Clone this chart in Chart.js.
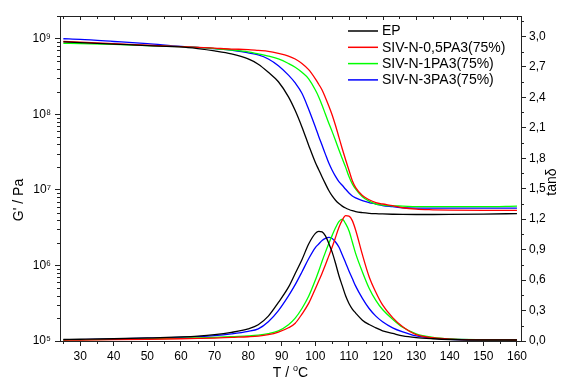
<!DOCTYPE html>
<html>
<head>
<meta charset="utf-8">
<script src="https://cdn.jsdelivr.net/npm/chart.js@4.4.1/dist/chart.umd.min.js"></script>
<style>
  html, body { margin: 0; padding: 0; background: #fff; }
  #c { display: block; }
</style>
</head>
<body>
<canvas id="c" width="563" height="379"></canvas>
<script>
// temperature grid (°C) shared by all curves
const temps = [25, 30, 40, 50, 60, 65, 70, 75, 80, 83, 86, 89, 92, 94, 96, 98, 100, 101, 102, 103,
  104, 105, 106, 107, 108, 109, 110, 111, 112, 114, 116, 118, 120, 123, 126, 130, 135, 140, 150, 160];

// storage modulus G' (Pa)
const gEP = [9.1e8, 8.9e8, 8.5e8, 8.1e8, 7.8e8, 7.4e8, 6.9e8, 6.3e8, 5.4e8, 4.6e8, 3.6e8, 2.7e8, 1.7e8, 1.12e8, 6.8e7, 3.9e7, 2.3e7, 1.85e7, 1.48e7, 1.2e7,
  9.8e6, 8.3e6, 7.3e6, 6.6e6, 6.1e6, 5.75e6, 5.5e6, 5.3e6, 5.15e6, 5.0e6, 4.9e6, 4.84e6, 4.8e6, 4.76e6, 4.73e6, 4.72e6, 4.72e6, 4.73e6, 4.78e6, 4.85e6];
const gS05 = [9.2e8, 9.0e8, 8.6e8, 8.2e8, 7.85e8, 7.7e8, 7.5e8, 7.3e8, 7.2e8, 7.0e8, 6.8e8, 6.4e8, 5.9e8, 5.4e8, 4.7e8, 3.9e8, 2.95e8, 2.5e8, 2.1e8, 1.66e8,
  1.29e8, 9.8e7, 7.1e7, 5.0e7, 3.5e7, 2.5e7, 1.82e7, 1.32e7, 1.07e7, 8.4e6, 7.4e6, 6.8e6, 6.5e6, 6.2e6, 5.8e6, 5.55e6, 5.45e6, 5.4e6, 5.35e6, 5.35e6];
const gS1 = [8.7e8, 8.6e8, 8.4e8, 8.1e8, 7.85e8, 7.7e8, 7.4e8, 7.1e8, 6.7e8, 6.3e8, 5.9e8, 5.4e8, 4.7e8, 4.2e8, 3.6e8, 2.95e8, 2.1e8, 1.7e8, 1.32e8, 1.0e8,
  7.6e7, 5.9e7, 4.5e7, 3.4e7, 2.6e7, 2.0e7, 1.5e7, 1.2e7, 1.02e7, 8.1e6, 7.1e6, 6.5e6, 6.3e6, 6.15e6, 6.1e6, 6.0e6, 6.0e6, 6.0e6, 6.0e6, 6.1e6];
const gS3 = [1.0e9, 9.8e8, 9.2e8, 8.6e8, 7.9e8, 7.7e8, 7.4e8, 7.1e8, 6.5e8, 6.1e8, 5.4e8, 4.4e8, 3.3e8, 2.6e8, 1.9e8, 1.17e8, 6.8e7, 5.1e7, 3.9e7, 2.95e7,
  2.26e7, 1.82e7, 1.51e7, 1.29e7, 1.15e7, 1.02e7, 9.1e6, 8.3e6, 7.85e6, 7.2e6, 6.8e6, 6.5e6, 6.2e6, 6.0e6, 5.8e6, 5.75e6, 5.75e6, 5.75e6, 5.75e6, 5.75e6];

// loss factor tan delta
const tanEP = [0.015, 0.017, 0.022, 0.03, 0.04, 0.048, 0.062, 0.085, 0.12, 0.16, 0.245, 0.38, 0.53, 0.665, 0.80, 0.955, 1.06, 1.08, 1.075, 1.035,
  0.96, 0.875, 0.765, 0.645, 0.545, 0.445, 0.37, 0.315, 0.275, 0.205, 0.162, 0.13, 0.10, 0.075, 0.05, 0.033, 0.022, 0.015, 0.01, 0.01];
const tanS05 = [0.008, 0.01, 0.013, 0.017, 0.022, 0.025, 0.029, 0.036, 0.042, 0.048, 0.062, 0.088, 0.13, 0.175, 0.265, 0.37, 0.515, 0.59, 0.668, 0.75,
  0.838, 0.925, 1.02, 1.118, 1.19, 1.235, 1.23, 1.185, 1.09, 0.85, 0.633, 0.48, 0.355, 0.23, 0.14, 0.063, 0.032, 0.018, 0.011, 0.01];
const tanS1 = [0.01, 0.012, 0.016, 0.021, 0.027, 0.031, 0.036, 0.044, 0.05, 0.057, 0.072, 0.10, 0.16, 0.225, 0.32, 0.44, 0.60, 0.69, 0.785, 0.875,
  0.96, 1.04, 1.115, 1.175, 1.20, 1.155, 1.085, 0.975, 0.86, 0.68, 0.52, 0.40, 0.31, 0.215, 0.135, 0.07, 0.035, 0.02, 0.012, 0.01];
const tanS3 = [0.012, 0.014, 0.02, 0.027, 0.036, 0.043, 0.053, 0.07, 0.095, 0.12, 0.19, 0.30, 0.445, 0.555, 0.68, 0.81, 0.92, 0.955, 0.99, 1.01,
  1.02, 1.01, 0.975, 0.925, 0.85, 0.77, 0.69, 0.615, 0.54, 0.42, 0.32, 0.245, 0.19, 0.13, 0.09, 0.05, 0.028, 0.017, 0.011, 0.01];

const seriesNames = ['EP', 'SIV-N-0,5PA3(75%)', 'SIV-N-1PA3(75%)', 'SIV-N-3PA3(75%)'];
const seriesColors = ['#000000', '#ff0000', '#00ff00', '#0000ff'];

const xTicks = [30, 40, 50, 60, 70, 80, 90, 100, 110, 120, 130, 140, 150, 160];
const gTicks = [1e5, 1e6, 1e7, 1e8, 1e9];
const tanTicks = [0, 0.3, 0.6, 0.9, 1.2, 1.5, 1.8, 2.1, 2.4, 2.7, 3.0];

const FONT = '"Liberation Sans", Arial, sans-serif';
const AXIS = '#222';
const SUP = '⁰¹²³⁴⁵⁶⁷⁸⁹';

Chart.defaults.font.family = FONT;
Chart.defaults.color = '#000';

function pts(arr) {
  return temps.map((t, i) => ({ x: t, y: arr[i] }));
}

const gSeries = [gEP, gS05, gS1, gS3];
const tanSeries = [tanEP, tanS05, tanS1, tanS3];
const datasets = [];
gSeries.forEach((a, i) => datasets.push({ label: seriesNames[i], data: pts(a), borderColor: seriesColors[i], yAxisID: 'y' }));
tanSeries.forEach((a, i) => datasets.push({ label: seriesNames[i], data: pts(a), borderColor: seriesColors[i], yAxisID: 'yR' }));
datasets.forEach(d => {
  d.borderWidth = 1.3;
  d.pointRadius = 0;
  d.fill = false;
  d.cubicInterpolationMode = 'monotone';
});

// frame, minor ticks, legend and axis titles
const decor = {
  id: 'decor',
  afterDraw(chart) {
    const ctx = chart.ctx, a = chart.chartArea;
    const xs = chart.scales.x, yl = chart.scales.y, yr = chart.scales.yR;
    const line = (x1, y1, x2, y2) => { ctx.beginPath(); ctx.moveTo(x1, y1); ctx.lineTo(x2, y2); ctx.stroke(); };
    const px = v => Math.round(v) + 0.5;
    ctx.save();
    ctx.strokeStyle = AXIS;
    ctx.lineWidth = 1;
    line(a.left, px(a.top), a.right, px(a.top));
    for (let t = 25; t <= 160; t += 5) {
      const x = px(xs.getPixelForValue(t));
      line(x, a.top, x, a.top + (t % 10 === 0 ? 4 : 3));
      if (t % 10 !== 0) line(x, a.bottom, x, a.bottom + 3);
    }
    for (let e = 5; e <= 9; e++) {
      for (let m = 2; m <= 9; m++) {
        const v = m * Math.pow(10, e);
        if (v > 2e9) continue;
        const y = px(yl.getPixelForValue(v));
        line(a.left - 3, y, a.left, y);
      }
    }
    for (let k = 0; k < 11; k++) {
      const y = px(yr.getPixelForValue(0.15 + k * 0.3));
      line(a.right, y, a.right + 3, y);
    }

    // legend
    ctx.font = '14px ' + FONT;
    ctx.textBaseline = 'middle';
    ctx.textAlign = 'left';
    ctx.fillStyle = '#000';
    seriesNames.forEach((n, i) => {
      const y = 31 + i * 16.3;
      ctx.strokeStyle = seriesColors[i];
      ctx.lineWidth = 1.5;
      line(348, y, 378, y);
      ctx.fillText(n, 382, y + 0.5);
    });

    // axis titles
    ctx.fillStyle = '#000';
    ctx.font = '14px ' + FONT;
    ctx.textAlign = 'center';
    ctx.textBaseline = 'middle';
    ctx.save();
    ctx.translate(19, 200);
    ctx.rotate(-Math.PI / 2);
    ctx.fillText("G' / Pa", 0, 0);
    ctx.restore();
    ctx.save();
    ctx.translate(552, 182);
    ctx.rotate(-Math.PI / 2);
    ctx.fillText('tanδ', 0, 0);
    ctx.restore();

    ctx.textAlign = 'left';
    ctx.textBaseline = 'alphabetic';
    const p1 = 'T / ', p2 = 'o', p3 = 'C';
    ctx.font = '14px ' + FONT;
    const w1 = ctx.measureText(p1).width, w3 = ctx.measureText(p3).width;
    ctx.font = '9px ' + FONT;
    const w2 = ctx.measureText(p2).width;
    let x0 = (a.left + a.right) / 2 - (w1 + w2 + w3) / 2;
    const base = 377;
    ctx.font = '14px ' + FONT;
    ctx.fillText(p1, x0, base);
    ctx.font = '9px ' + FONT;
    ctx.fillText(p2, x0 + w1, base - 6);
    ctx.font = '14px ' + FONT;
    ctx.fillText(p3, x0 + w1 + w2, base);
    ctx.restore();
  }
};

new Chart(document.getElementById('c'), {
  type: 'line',
  data: { datasets: datasets },
  options: {
    responsive: false,
    animation: false,
    devicePixelRatio: 1,
    layout: { padding: { top: 16, left: 0, right: 0, bottom: 0 } },
    plugins: { legend: { display: false }, tooltip: { enabled: false } },
    scales: {
      x: {
        type: 'linear',
        min: 24,
        max: 161.2,
        afterBuildTicks: s => { s.ticks = xTicks.map(v => ({ value: v })); },
        afterFit: s => { s.height = 38; },
        ticks: { font: { size: 12 }, padding: 3, maxRotation: 0, autoSkip: false, color: '#000' },
        grid: { drawOnChartArea: false, tickLength: 5, color: AXIS },
        border: { color: AXIS, width: 1 }
      },
      y: {
        type: 'logarithmic',
        position: 'left',
        min: 1e5,
        max: 2e9,
        afterBuildTicks: s => { s.ticks = gTicks.map(v => ({ value: v })); },
        afterFit: s => { s.width = 60; },
        ticks: {
          font: { size: 12 },
          padding: 4,
          autoSkip: false,
          color: '#000',
          callback: v => '10' + SUP[Math.round(Math.log10(v))]
        },
        grid: { drawOnChartArea: false, tickLength: 5, color: AXIS },
        border: { color: AXIS, width: 1 }
      },
      yR: {
        type: 'linear',
        position: 'right',
        min: 0,
        max: 3.2,
        afterBuildTicks: s => { s.ticks = tanTicks.map(v => ({ value: v })); },
        afterFit: s => { s.width = 42; },
        ticks: {
          font: { size: 12 },
          padding: 3,
          autoSkip: false,
          color: '#000',
          callback: v => v.toFixed(1).replace('.', ',')
        },
        grid: { drawOnChartArea: false, tickLength: 5, color: AXIS },
        border: { color: AXIS, width: 1 }
      }
    }
  },
  plugins: [decor]
});
</script>
</body>
</html>
